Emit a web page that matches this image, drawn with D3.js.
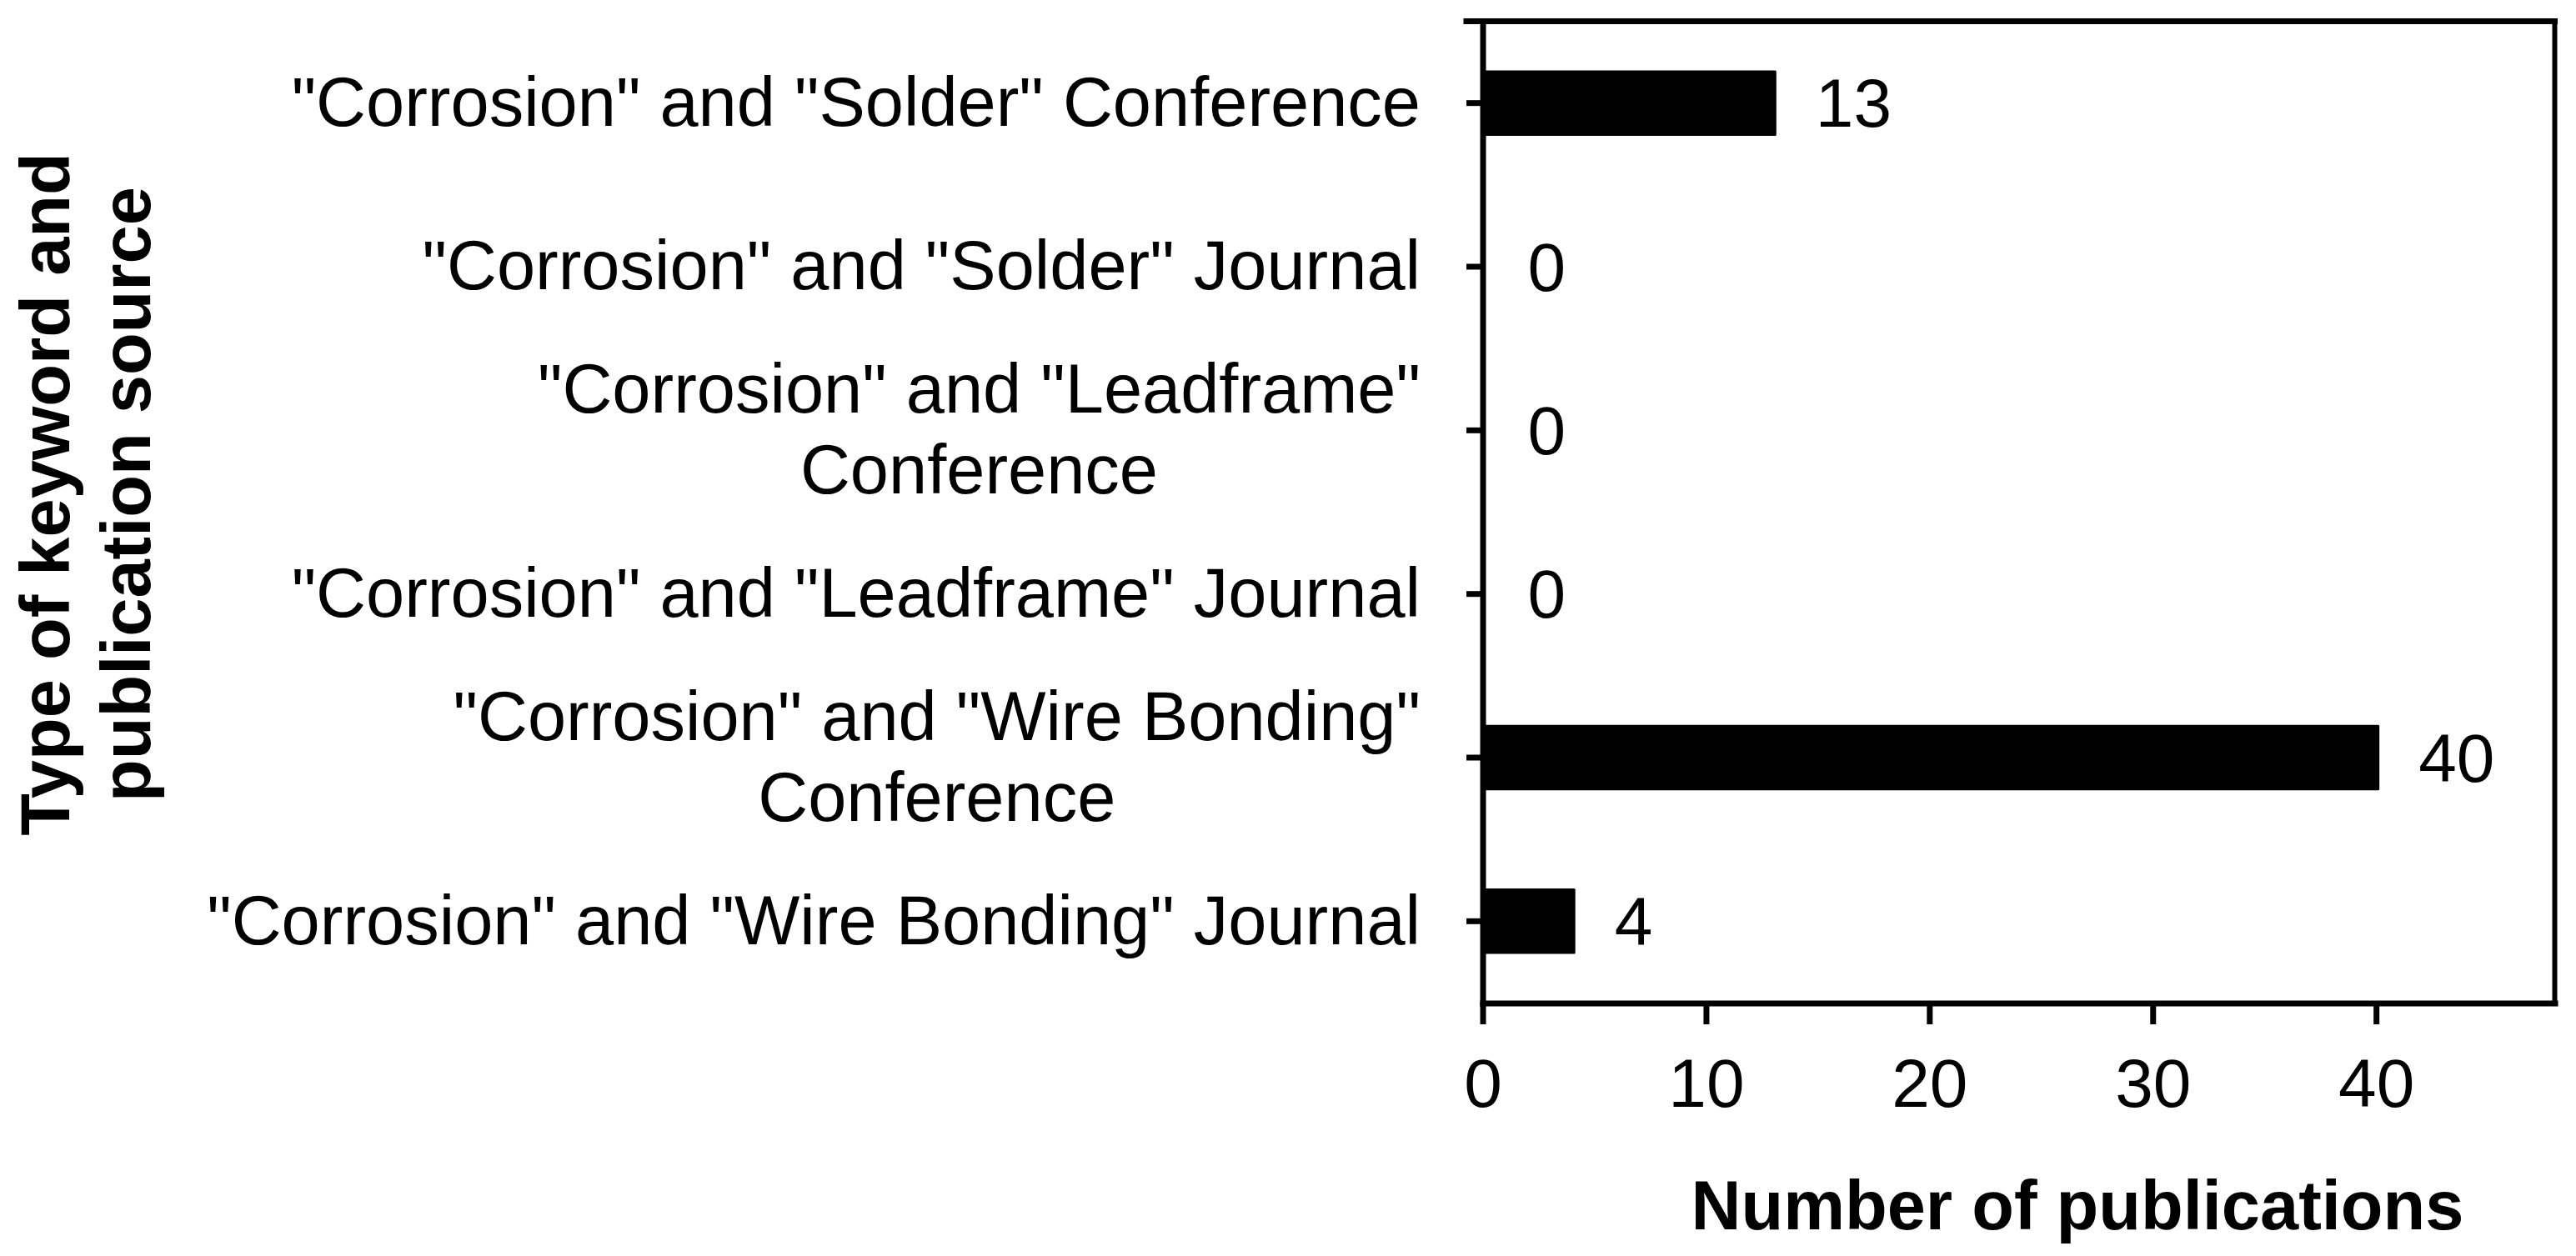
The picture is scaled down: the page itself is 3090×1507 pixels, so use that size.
<!DOCTYPE html>
<html>
<head>
<meta charset="utf-8">
<script src="https://cdn.jsdelivr.net/npm/d3@7"></script>
<style>
  html, body { margin: 0; padding: 0; background: #fff; }
  svg { display: block; }
  text { font-family: "Liberation Sans", Arial, Helvetica, sans-serif; fill: #000; }
</style>
</head>
<body>
<svg id="chart" width="3090" height="1507"></svg>
<script>
// ---- data ----
const categories = [
  '"Corrosion" and "Solder" Conference',
  '"Corrosion" and "Solder" Journal',
  '"Corrosion" and "Leadframe" Conference',
  '"Corrosion" and "Leadframe" Journal',
  '"Corrosion" and "Wire Bonding" Conference',
  '"Corrosion" and "Wire Bonding" Journal'
];
const categoryLines = [
  ['"Corrosion" and "Solder" Conference'],
  ['"Corrosion" and "Solder" Journal'],
  ['"Corrosion" and "Leadframe"', 'Conference'],
  ['"Corrosion" and "Leadframe" Journal'],
  ['"Corrosion" and "Wire Bonding"', 'Conference'],
  ['"Corrosion" and "Wire Bonding" Journal']
];
const values = [13, 0, 0, 0, 40, 4];
const xTicks = [0, 10, 20, 30, 40];
const xDomain = [0, 48];
const xTitle = 'Number of publications';
const yTitleLines = ['Type of keyword and', 'publication source'];

(function () {
// ---- layout ----
const pLeft = 1778.5, pRight = 3064.5, pTop = 25.5, pBottom = 1203.5;
const lw = 7;
const fs = 82;
const fsLabel = 83;

const svg = d3.select('#chart');

const x = d3.scaleLinear().domain(xDomain).range([pLeft, pRight]);
const y = d3.scaleBand().domain(categories).range([pTop, pBottom])
  .paddingInner(0.6).paddingOuter(0.3);

// bars
svg.append('g').selectAll('rect')
  .data(categories)
  .join('rect')
  .attr('x', x(0))
  .attr('y', d => y(d))
  .attr('width', (d, i) => x(values[i]) - x(0) + (values[i] > 0 ? 4 : 0))
  .attr('height', y.bandwidth())
  .attr('rx', 1.5)
  .attr('fill', '#000');

// frame (top + right)
svg.append('line')
  .attr('x1', pLeft - 19.5).attr('x2', pRight)
  .attr('y1', pTop).attr('y2', pTop)
  .attr('stroke', '#000').attr('stroke-width', lw).attr('stroke-linecap', 'square');
svg.append('line')
  .attr('x1', pRight).attr('x2', pRight)
  .attr('y1', pTop).attr('y2', pBottom)
  .attr('stroke', '#000').attr('stroke-width', lw - 1).attr('stroke-linecap', 'square');

// x axis
const gx = svg.append('g')
  .attr('transform', `translate(0,${pBottom})`)
  .call(d3.axisBottom(x).tickValues(xTicks).tickSize(25.5).tickSizeOuter(0).tickPadding(41));
gx.select('.domain').attr('stroke-width', lw).attr('stroke-linecap', 'square');
gx.selectAll('.tick line').attr('stroke-width', lw);
gx.selectAll('.tick text').attr('font-size', fs)
  .attr('font-family', '"Liberation Sans", Arial, sans-serif').attr('fill', '#000');

// y axis
const gy = svg.append('g')
  .attr('transform', `translate(${pLeft},0)`)
  .call(d3.axisLeft(y).tickSize(19.5).tickSizeOuter(0).tickFormat(''));
gy.select('.domain').attr('stroke-width', lw).attr('stroke-linecap', 'square');
gy.selectAll('.tick line').attr('stroke-width', lw);

// category labels (multi-line, centered block, right aligned)
const labelRight = 1704;
const lineH = 97;
categories.forEach((c, i) => {
  const lines = categoryLines[i];
  const cy = y(c) + y.bandwidth() / 2;
  const t = svg.append('text').attr('font-size', fsLabel).attr('text-anchor', 'middle');
  const spans = lines.map((ln, j) =>
    t.append('tspan')
      .attr('y', cy + (j - (lines.length - 1) / 2) * lineH)
      .attr('dy', '0.33em')
      .text(ln));
  const maxW = d3.max(spans, s => s.node().getComputedTextLength());
  spans.forEach(s => s.attr('x', labelRight - maxW / 2));
});

// value labels
svg.append('g').selectAll('text')
  .data(categories)
  .join('text')
  .attr('x', (d, i) => x(values[i]) + (values[i] > 0 ? 51 : 54))
  .attr('y', d => y(d) + y.bandwidth() / 2)
  .attr('dy', '0.35em')
  .attr('font-size', fs)
  .text((d, i) => values[i]);

// x title
svg.append('text')
  .attr('x', 2492).attr('y', 1475)
  .attr('text-anchor', 'middle')
  .attr('font-size', fsLabel).attr('font-weight', 'bold')
  .text(xTitle);

// y title
const yt = svg.append('text')
  .attr('transform', 'translate(0,593) rotate(-90)')
  .attr('text-anchor', 'middle')
  .attr('font-size', fsLabel).attr('font-weight', 'bold');
yTitleLines.forEach((ln, j) => {
  yt.append('tspan').attr('x', 0).attr('y', 83 + j * 97).text(ln);
});
})();
</script>
</body>
</html>
